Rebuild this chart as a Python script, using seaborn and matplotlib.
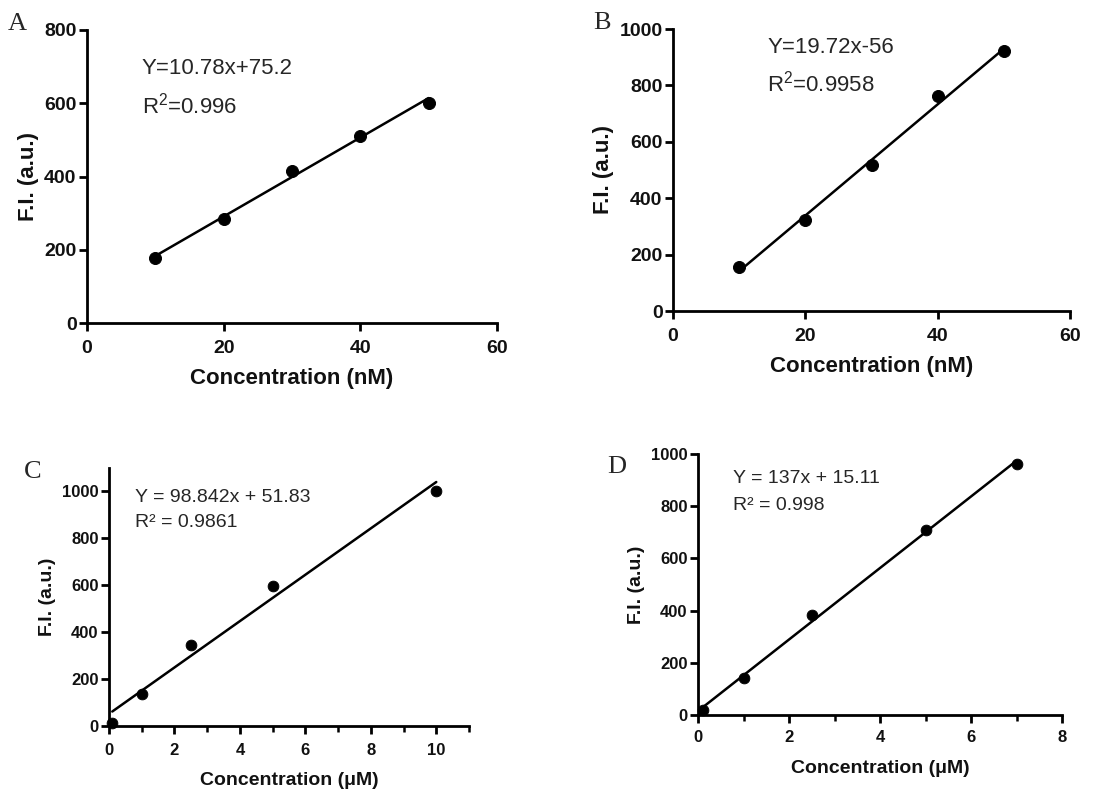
import numpy as np
import pandas as pd
import matplotlib
matplotlib.use("Agg")
import matplotlib.pyplot as plt
from matplotlib.ticker import MultipleLocator
import seaborn as sns

sns.set_theme(style="ticks")
plt.rcParams['font.family'] = ['Liberation Sans', 'DejaVu Sans']
plt.rcParams['mathtext.fontset'] = 'custom'
plt.rcParams['mathtext.rm'] = 'Liberation Sans'
plt.rcParams['mathtext.default'] = 'regular'

# Panel A / B: concentration in nM
conc_nm = [10, 20, 30, 40, 50]
fi_a = [177, 284, 414, 511, 602]
fi_b = [155, 323, 516, 761, 921]
fit_a = (10.78, 75.2)
fit_b = (19.72, -56)

# Panel C / D: concentration in uM
conc_c = [0.1, 1, 2.5, 5, 10]
fi_c = [14, 135, 347, 595, 1003]
fit_c = (98.842, 51.83)
conc_d = [0.1, 1, 2.5, 5, 7]
fi_d = [18, 143, 384, 707, 960]
fit_d = (137, 15.11)

eq_a = ["Y=10.78x+75.2", "R$^2$=0.996"]
eq_b = ["Y=19.72x-56", "R$^2$=0.9958"]
eq_c = ["Y = 98.842x + 51.83", "R² = 0.9861"]
eq_d = ["Y = 137x + 15.11", "R² = 0.998"]

W, H = 1115, 791
fig = plt.figure(figsize=(W / 100, H / 100), dpi=100)


def px_axes(left, top, right, bottom):
    return fig.add_axes([left / W, 1 - bottom / H, (right - left) / W, (bottom - top) / H])


def panel(ax, x, y, fit, eq, xlim, ylim, xstep, ystep, xlabel, fs_tick, fs_lab, fs_eq,
          eq_pos, minor=None, msize=75, xpad=6):
    df = pd.DataFrame({"x": x, "y": y})
    xf = np.array([df.x.min(), df.x.max()])
    line = pd.DataFrame({"x": xf, "y": fit[0] * xf + fit[1]})
    sns.lineplot(data=line, x="x", y="y", ax=ax, color="black", lw=1.8)
    sns.scatterplot(data=df, x="x", y="y", ax=ax, color="black", s=msize,
                    edgecolor="black", zorder=3, clip_on=False)
    ax.set_xlim(*xlim)
    ax.set_ylim(*ylim)
    ax.xaxis.set_major_locator(MultipleLocator(xstep))
    ax.yaxis.set_major_locator(MultipleLocator(ystep))
    if minor:
        ax.xaxis.set_minor_locator(MultipleLocator(minor))
    sns.despine(ax=ax)
    for s in ["left", "bottom"]:
        ax.spines[s].set_linewidth(2)
        ax.spines[s].set_color("black")
    ax.tick_params(which="major", length=6, width=2, color="black")
    ax.tick_params(which="minor", length=4, width=1.8, color="black")
    ax.tick_params(axis="x", pad=xpad)
    ax.tick_params(axis="y", pad=1.5)
    for t in ax.get_xticklabels() + ax.get_yticklabels():
        t.set_fontweight("bold")
        t.set_fontsize(fs_tick)
        t.set_color("#111111")
    ax.set_xlabel(xlabel, fontsize=fs_lab, fontweight="bold", color="#111111")
    ax.set_ylabel("F.I. (a.u.)", fontsize=fs_lab, fontweight="bold", color="#111111")
    (ex, ey1, ey2) = eq_pos
    ax.text(ex, ey1, eq[0], transform=ax.transAxes, fontsize=fs_eq, va="top", ha="left")
    ax.text(ex, ey2, eq[1], transform=ax.transAxes, fontsize=fs_eq, va="top", ha="left")


ax_a = px_axes(87, 30, 497, 323)
panel(ax_a, conc_nm, fi_a, fit_a, eq_a, (0, 60), (0, 800), 20, 200,
      "Concentration (nM)", 14, 16, 16, (0.134, 0.906, 0.786))
ax_a.xaxis.labelpad = 8

ax_b = px_axes(673, 29, 1070, 311)
panel(ax_b, conc_nm, fi_b, fit_b, eq_b, (0, 60), (0, 1000), 20, 200,
      "Concentration (nM)", 14, 16, 16, (0.237, 0.972, 0.852))
ax_b.xaxis.labelpad = 8

ax_c = px_axes(109, 468, 469, 726)
panel(ax_c, conc_c, fi_c, fit_c, eq_c, (0, 11), (0, 1100), 2, 200,
      "Concentration (μM)", 12, 14, 14, (0.072, 0.917, 0.82), minor=1, msize=60,
      xpad=6)
ax_c.xaxis.labelpad = 10

ax_d = px_axes(698, 454, 1062, 715)
panel(ax_d, conc_d, fi_d, fit_d, eq_d, (0, 8), (0, 1000), 2, 200,
      "Concentration (μM)", 12, 14, 14, (0.096, 0.937, 0.837), minor=1, msize=60,
      xpad=4.5)
ax_d.xaxis.labelpad = 11

for letter, (lx, ly) in zip("ABCD", [(8, 13), (593, 12), (24, 461), (607, 456)]):
    fig.text(lx / W, 1 - ly / H, letter, family="Liberation Serif", fontsize=19,
             va="top", ha="left")

fig.savefig("out.png", dpi=100, facecolor="white")
